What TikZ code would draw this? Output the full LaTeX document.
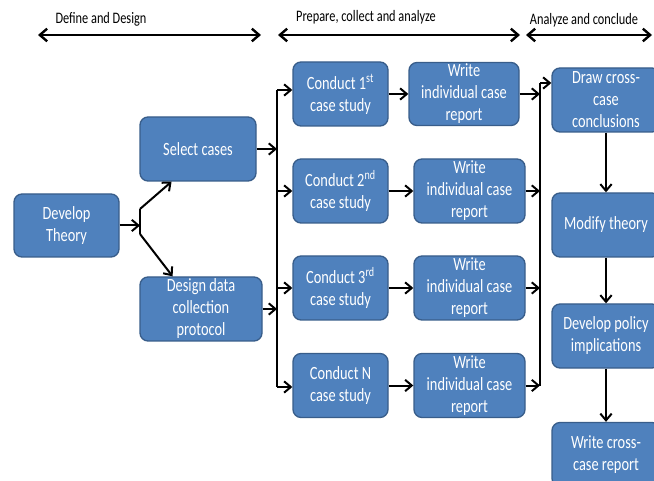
\documentclass[tikz,border=0pt]{standalone}
\usepackage{fontspec}
\setmainfont{Carlito}[FakeStretch=0.77]
\usetikzlibrary{arrows.meta}

\definecolor{boxblue}{RGB}{79,129,189}
\definecolor{boxedge}{RGB}{56,93,138}

\tikzset{
  stagebox/.style={draw=boxedge, line width=1pt, fill=boxblue, rounded corners=6pt,
    text=white, align=center, inner sep=0pt, font=\fontsize{14}{16.5}\selectfont},
  flow/.style={line width=1.5pt, -{Straight Barb[length=5pt,width=8.5pt]}},
  bus/.style={line width=1.5pt},
  phase/.style={line width=1.8pt, {Straight Barb[length=5.5pt,width=9.5pt]}-{Straight Barb[length=5.5pt,width=9.5pt]}},
  phaselabel/.style={font=\fontsize{12}{14}\selectfont, inner sep=0pt}
}

\begin{document}
\begin{tikzpicture}[x=0.75pt, y=-0.75pt]
\clip (0,0) rectangle (654,481);

% Phases
\node[phaselabel] (definelabel) at (101,19) {Define and Design};
\node[phaselabel] (preparelabel) at (366,17) {Prepare, collect and analyze};
\node[phaselabel] (concludelabel) at (584,20) {Analyze and conclude};
\coordinate (define-l) at (38,35);
\coordinate (define-r) at (261,35);
\coordinate (prepare-l) at (278,35);
\coordinate (prepare-r) at (520,35);
\coordinate (conclude-l) at (526,35);
\coordinate (conclude-r) at (652,35);
\draw[phase] (define-l) -- (define-r);
\draw[phase] (prepare-l) -- (prepare-r);
\draw[phase] (conclude-l) -- (conclude-r);

% Nodes
\node[stagebox, minimum width=78.75pt, minimum height=47.25pt] (theory) at (66.5,225.5) {Develop\\Theory};
\node[stagebox, minimum width=87pt, minimum height=48pt] (select) at (198,149) {Select cases};
\node[stagebox, minimum width=91.5pt, minimum height=48pt] (design) at (201,309) {Design data\\collection\\protocol};

\node[stagebox, minimum width=71.25pt, minimum height=48pt] (conduct1) at (340.5,94) {Conduct 1\textsuperscript{st}\\case study};
\node[stagebox, minimum width=71.25pt, minimum height=48pt] (conduct2) at (340.5,191) {Conduct 2\textsuperscript{nd}\\case study};
\node[stagebox, minimum width=71.25pt, minimum height=48pt] (conduct3) at (340.5,288) {Conduct 3\textsuperscript{rd}\\case study};
\node[stagebox, minimum width=71.25pt, minimum height=48pt] (conduct4) at (340.5,385.5) {Conduct N\\case study};

\node[stagebox, minimum width=82.5pt, minimum height=47.25pt] (write1) at (464,94) {Write\\individual case\\report};
\node[stagebox, minimum width=83.25pt, minimum height=48pt] (write2) at (469.5,191) {Write\\individual case\\report};
\node[stagebox, minimum width=83.25pt, minimum height=48pt] (write3) at (469.5,288) {Write\\individual case\\report};
\node[stagebox, minimum width=83.25pt, minimum height=48pt] (write4) at (469.5,385.5) {Write\\individual case\\report};

\node[stagebox, minimum width=81pt, minimum height=48pt] (conclude) at (606,100) {Draw cross-\\case\\conclusions};
\node[stagebox, minimum width=81pt, minimum height=48pt] (modify) at (606,225) {Modify theory};
\node[stagebox, minimum width=81pt, minimum height=48pt] (policy) at (606,336) {Develop policy\\implications};
\node[stagebox, minimum width=81pt, minimum height=48pt] (report) at (606,454.5) {Write cross-\\case report};

% Fork
\coordinate (fork) at (140,225.5);
\coordinate (fork-up) at (140,209);
\coordinate (fork-down) at (140,234);
\draw[flow] (theory.east) -- (fork);
\draw[bus] (fork-up) -- (fork-down);
\draw[flow] (fork-up) -- (select.-129);
\draw[flow] (fork-down) -- (design.131);

% Left bus
\coordinate (busL-top) at (277,90);
\coordinate (busL-bot) at (277,387);
\draw[flow] (select.east) -- (select.east -| busL-top);
\draw[flow] (design.east) -- (design.east -| busL-top);
\draw[bus] (busL-top) -- (busL-bot);
\draw[flow] (busL-top) -- (busL-top -| conduct1.west);
\foreach \i in {2,3}
  \draw[flow] (conduct\i.west -| busL-top) -- (conduct\i.west);
\draw[flow] (busL-bot) -- (busL-bot -| conduct4.west);

\foreach \i in {1,...,4}
  \draw[flow] (conduct\i) -- (write\i);

% Right bus
\coordinate (busR-top) at (540,83);
\coordinate (busR-bot) at (540,385.5);
\draw[bus] (busR-top) -- (busR-bot);
\foreach \i in {1,...,4}
  \draw[flow] (write\i.east) -- (write\i.east -| busR-top);
\draw[flow] (busR-top) -- (busR-top -| conclude.west);

\draw[flow] (conclude) -- (modify);
\draw[flow] (modify) -- (policy);
\draw[flow] (policy) -- (report);

\end{tikzpicture}
\end{document}
